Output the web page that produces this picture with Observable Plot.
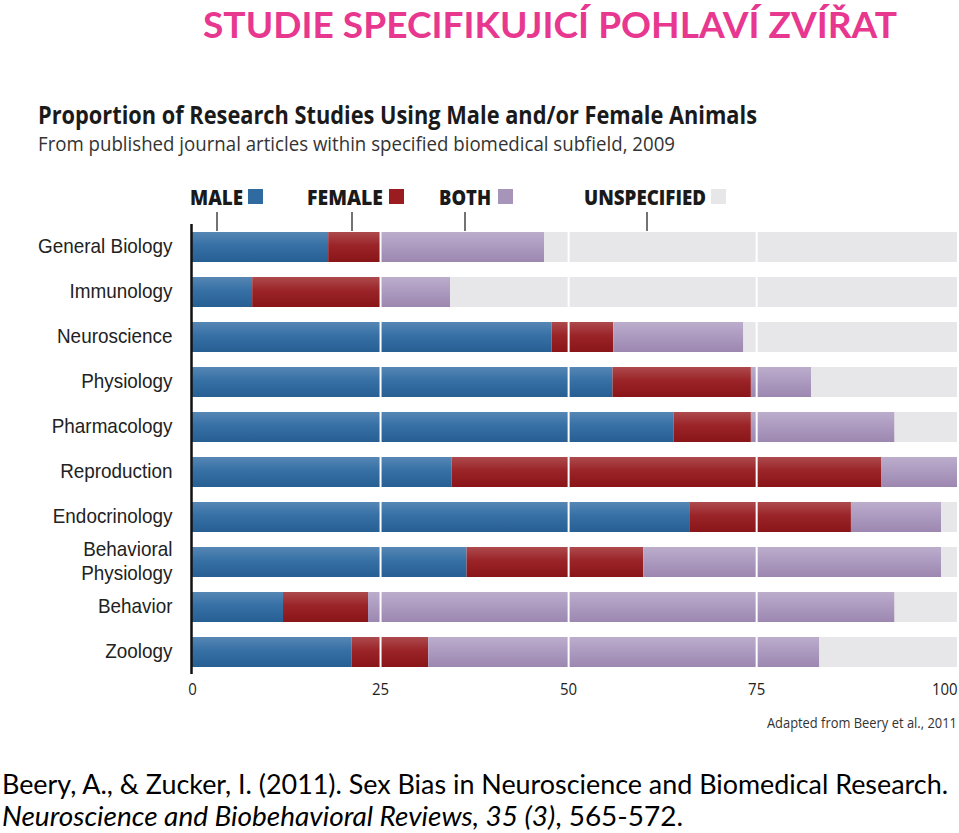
<!DOCTYPE html>
<html>
<head>
<meta charset="utf-8">
<script src="https://cdn.jsdelivr.net/npm/d3@7"></script>
<script src="https://cdn.jsdelivr.net/npm/@observablehq/plot@0.6"></script>
<style>
  html, body { margin: 0; padding: 0; background: #fff; }
  #page { position: relative; width: 959px; height: 833px; overflow: hidden; background: #fff; }
  .t { position: absolute; white-space: nowrap; line-height: 1; display: inline-block; }
  #chart { position: absolute; left: 0; top: 160px; }
</style>
</head>
<body>
<div id="page">
  <div class="t fit" id="title" data-w="694" style="left:203px;top:5px;font-family:Lato,'Open Sans',sans-serif;font-weight:700;font-size:37px;color:#e8378f;">STUDIE SPECIFIKUJICÍ POHLAVÍ ZVÍŘAT</div>
  <div class="t fit" id="heading" data-w="719" style="left:38px;top:102px;font-family:'Open Sans',sans-serif;font-weight:700;font-size:25px;color:#1a1a1a;">Proportion of Research Studies Using Male and/or Female Animals</div>
  <div class="t fit" id="subheading" data-w="637" style="left:38px;top:134px;font-family:'Open Sans',sans-serif;font-weight:400;font-size:20px;color:#333;">From published journal articles within specified biomedical subfield, 2009</div>
  <div id="chart"></div>
  <div class="t fitr" id="adapted" data-w="190" style="right:2px;top:715px;font-family:'Open Sans',sans-serif;font-size:15px;color:#333;">Adapted from Beery et al., 2011</div>
  <div class="t fit" id="cite1" data-w="946" style="left:2px;top:770px;font-family:Lato,'Open Sans',sans-serif;font-size:27px;color:#000;">Beery, A., &amp; Zucker, I. (2011). Sex Bias in Neuroscience and Biomedical Research.</div>
  <div class="t fit" id="cite2" data-w="681" style="left:2px;top:802px;font-family:Lato,'Open Sans',sans-serif;font-size:27px;color:#000;"><i>Neuroscience and Biobehavioral Reviews, 35 (3)</i>, 565-572.</div>
</div>
<script>
// ---- Data ----
const categories = ["General Biology", "Immunology", "Neuroscience", "Physiology", "Pharmacology",
  "Reproduction", "Endocrinology", "Behavioral\nPhysiology", "Behavior", "Zoology"];
const seriesNames = ["Male", "Female", "Both", "Unspecified"];
const legendLabels = ["MALE", "FEMALE", "BOTH", "UNSPECIFIED"];
const male        = [18.1,  8.0, 47.8, 55.9, 64.0, 34.5, 66.1, 36.5, 12.1, 21.2];
const female      = [ 7.1, 17.2,  8.2, 18.4, 10.3, 57.1, 21.5, 23.5, 11.3, 10.2];
const both        = [21.6,  9.1, 17.3,  8.0, 19.1, 10.1, 12.0, 39.6, 70.0, 52.0];
const unspecified = [54.9, 67.4, 28.4, 19.4,  8.3,  0.0,  2.1,  2.1,  8.3, 18.3];
const xTicks = [0, 25, 50, 75, 100];
const gridTicks = [25, 50, 75];

// ---- Build table ----
const seriesValues = [male, female, both, unspecified];
const rows = [];
categories.forEach((c, i) => {
  seriesNames.forEach((s, j) => rows.push({category: c, series: s, value: seriesValues[j][i]}));
});
const totals = categories.map((c, i) => d3.sum(seriesValues, v => v[i]));
const xMax = d3.max(totals);

const axisFont = "'Open Sans', sans-serif";

const plot = Plot.plot({
  width: 959,
  height: 540,
  marginLeft: 192,
  marginRight: 2,
  marginTop: 64,
  marginBottom: 26,
  style: {fontFamily: axisFont, fontSize: "16px", color: "#222", background: "transparent", overflow: "visible"},
  x: {domain: [0, xMax], axis: null},
  y: {domain: categories, paddingInner: 1/3, paddingOuter: 1/6, axis: null},
  color: {domain: seriesNames, range: ["url(#gMale)", "url(#gFemale)", "url(#gBoth)", "#e7e7e9"]},
  marks: [
    Plot.barX(rows, Plot.stackX({x: "value", y: "category", fill: "series"})),
    Plot.ruleX(gridTicks, {stroke: "white", strokeWidth: 2}),
    Plot.ruleX([0], {stroke: "#111", strokeWidth: 2.5, dx: -1}),
    Plot.axisX({ticks: xTicks, tickSize: 0, tickPadding: 8, fontSize: 17, label: null, className: "xax"}),
    Plot.axisY({tickSize: 0, tickPadding: 20, fontSize: 21, lineHeight: 1.14, label: null, dy: -2,
      fontFamily: "'Liberation Sans', Arial, sans-serif", className: "yax"})
  ]
});
document.getElementById("chart").appendChild(plot);

// ---- gradients ----
const svgEl = plot.tagName.toLowerCase() === "svg" ? plot : plot.querySelector("svg");
const svg = d3.select(svgEl);
const defs = svg.insert("defs", ":first-child");
const grads = [
  ["gMale",   "#5687b5", "#3670a5", "#275f93"],
  ["gFemale", "#ad4a4d", "#9a2428", "#8a1519"],
  ["gBoth",   "#bcadcc", "#ad9bc0", "#9c87b0"]
];
grads.forEach(([id, c0, c1, c2]) => {
  const g = defs.append("linearGradient").attr("id", id).attr("x1", 0).attr("y1", 0).attr("x2", 0).attr("y2", 1);
  g.append("stop").attr("offset", "0%").attr("stop-color", c0);
  g.append("stop").attr("offset", "45%").attr("stop-color", c1);
  g.append("stop").attr("offset", "100%").attr("stop-color", c2);
});

// ---- condense axis labels (narrow face look) ----
function condense(selector, s) {
  svgEl.querySelectorAll(selector + " text").forEach(t => {
    const tr = t.getAttribute("transform");
    if (tr) t.setAttribute("transform", tr + ` scale(${s},1)`);
  });
}
condense(".yax", 0.9);
condense(".xax", 0.88);

// ---- legend (annotation above first bar) ----
const legendColors = ["#2f6aa0", "#9b1c20", "#a795b9", "#e7e7e9"];
const legendLayout = [
  {tx: 190, tw: 53, sx: 248, tick: 217},
  {tx: 307, tw: 76, sx: 389, tick: 352},
  {tx: 439, tw: 52, sx: 498, tick: 465},
  {tx: 584, tw: 122, sx: 711, tick: 647}
];
const lg = svg.append("g").attr("font-family", "'Open Sans', sans-serif").attr("text-anchor", "start");
legendLabels.forEach((lab, i) => {
  const L = legendLayout[i];
  lg.append("text").attr("x", L.tx).attr("y", 45).attr("font-size", 21).attr("font-weight", 800)
    .attr("text-anchor", "start")
    .attr("fill", "#1a1a1a").attr("textLength", L.tw).attr("lengthAdjust", "spacingAndGlyphs").text(lab);
  lg.append("rect").attr("x", L.sx).attr("y", 29).attr("width", 15).attr("height", 15).attr("fill", legendColors[i]);
  lg.append("line").attr("x1", L.tick).attr("x2", L.tick).attr("y1", 52).attr("y2", 71)
    .attr("stroke", "#444").attr("stroke-width", 1.5);
});

// ---- fit text widths ----
document.querySelectorAll(".fit, .fitr").forEach(el => {
  const target = +el.dataset.w;
  const w = el.getBoundingClientRect().width;
  if (w > 0) {
    el.style.transformOrigin = el.classList.contains("fitr") ? "right top" : "left top";
    el.style.transform = `scaleX(${target / w})`;
  }
});
</script>
</body>
</html>
